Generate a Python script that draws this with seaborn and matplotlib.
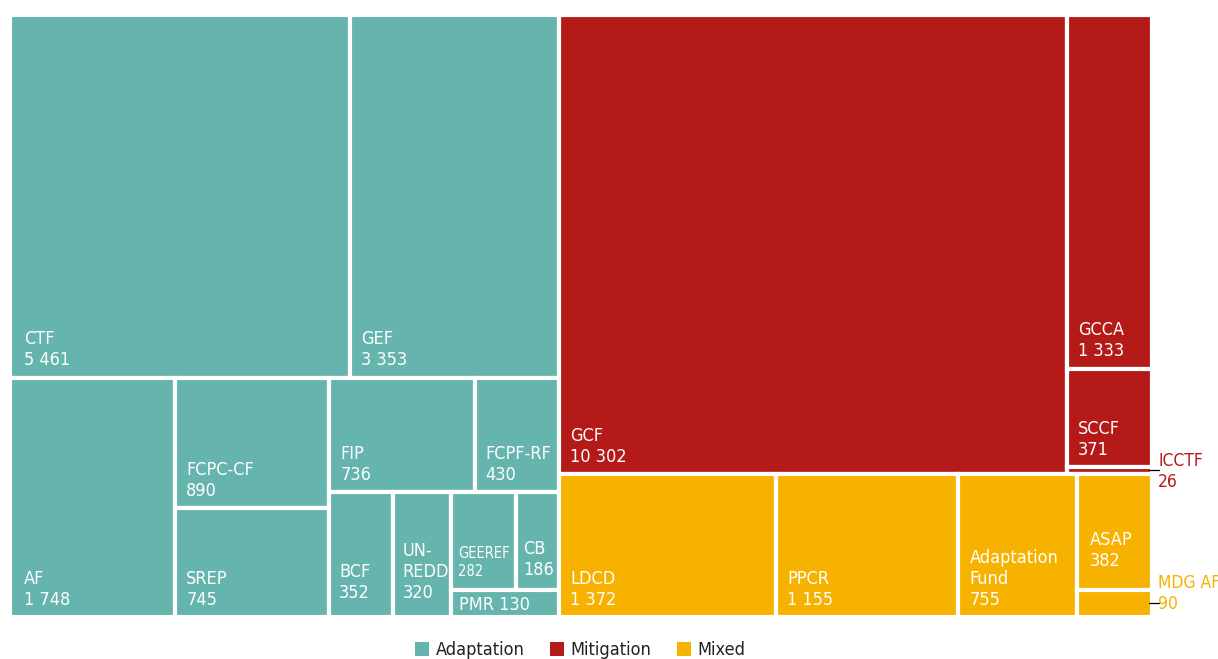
import matplotlib
matplotlib.use("Agg")
import matplotlib.pyplot as plt
from matplotlib.patches import Rectangle, Patch
import seaborn as sns

# fund names, amounts and group
names = ["CTF", "GEF", "AF", "FCPC-CF", "SREP", "FIP", "FCPF-RF", "BCF", "UN-\nREDD",
         "GEEREF", "CB", "PMR", "GCF", "GCCA", "SCCF", "ICCTF",
         "LDCD", "PPCR", "Adaptation\nFund", "ASAP", "MDG AF"]
values = [5461, 3353, 1748, 890, 745, 736, 430, 352, 320,
          282, 186, 130, 10302, 1333, 371, 26,
          1372, 1155, 755, 382, 90]
groups = ["Adaptation"] * 12 + ["Mitigation"] * 4 + ["Mixed"] * 5
value_labels = ["5 461", "3 353", "1 748", "890", "745", "736", "430", "352", "320",
                "282", "186", "130", "10 302", "1 333", "371", "26",
                "1 372", "1 155", "755", "382", "90"]

group_names = ["Adaptation", "Mitigation", "Mixed"]
group_colors = ["#65b4ad", "#b41a18", "#f7b200"]

# nesting of the slices: ("h", [...]) splits left-right, ("v", [...]) top-bottom
tree = ("h", [
    ("v", [
        ("h", [0, 1]),
        ("h", [2,
               ("v", [3, 4]),
               ("v", [("h", [5, 6]),
                      ("h", [7, 8, ("v", [("h", [9, 10]), 11])])])]),
    ]),
    ("v", [
        ("h", [12, ("v", [13, 14, 15])]),
        ("h", [16, 17, 18, ("v", [19, 20])]),
    ]),
])


def node_value(node):
    if isinstance(node, int):
        return values[node]
    return sum(node_value(c) for c in node[1])


def layout(node, x, y, w, h, out):
    if isinstance(node, int):
        out[node] = (x, y, w, h)
        return
    direction, children = node
    total = node_value(node)
    for c in children:
        frac = node_value(c) / total
        if direction == "h":
            layout(c, x, y, w * frac, h, out)
            x += w * frac
        else:
            layout(c, x, y, w, h * frac, out)
            y += h * frac


rects = {}
layout(tree, 0, 0, 1, 1, rects)

sns.set_theme(style="white")
plt.rcParams["font.family"] = ["DejaVu Sans"]
plt.rcParams["font.stretch"] = "condensed"

fig = plt.figure(figsize=(12.18, 6.59), dpi=100)
ax = fig.add_axes([10 / 1218, 42 / 659, 1142 / 1218, 602 / 659])
ax.set_xlim(0, 1)
ax.set_ylim(1, 0)
ax.axis("off")

color_of = dict(zip(group_names, group_colors))
FS = 13
# label offsets (points) from the lower-left corner of a cell
offsets = {"CTF": (10, 6), "AF": (10, 6), "BCF": (7, 11), "UN-\nREDD": (7, 11),
           "GEEREF": (5, 8), "CB": (5, 8), "PMR": (6, 2), "ASAP": (9, 14)}
outside = {"ICCTF": (4.5, 13), "MDG AF": (4.5, 21)}

for i, name in enumerate(names):
    x, y, w, h = rects[i]
    col = color_of[groups[i]]
    ax.add_patch(Rectangle((x, y), w, h, facecolor=col, edgecolor="white", linewidth=3))
    if name in outside:
        dx, dy = outside[name]
        yc = y + h / 2
        ax.plot([x + w - 0.003, x + w + 0.006], [yc, yc], color="black", lw=0.9, clip_on=False)
        ax.annotate(f"{name}\n{value_labels[i]}", xy=(x + w, yc), xytext=(dx, dy),
                    textcoords="offset points", ha="left", va="top", color=col,
                    fontsize=FS - 0.5, linespacing=1.2, annotation_clip=False)
        continue
    fs = FS
    if name == "PMR":
        txt = f"{name} {value_labels[i]}"
    else:
        txt = f"{name}\n{value_labels[i]}"
    if name == "GEEREF":
        fs = FS - 2.5
    ax.annotate(txt, xy=(x, y + h), xytext=offsets.get(name, (8, 6)), textcoords="offset points",
                ha="left", va="bottom", color="white", fontsize=fs, linespacing=1.2)

handles = [Patch(facecolor=c, edgecolor="none") for c in group_colors]
fig.legend(handles, group_names, loc="center", bbox_to_anchor=(580 / 1218, 9 / 659),
           ncol=3, frameon=False, fontsize=FS, handlelength=0.8, handleheight=0.8,
           handletextpad=0.35, columnspacing=1.4, labelcolor="#222222")

fig.savefig("out.png", dpi=100)
